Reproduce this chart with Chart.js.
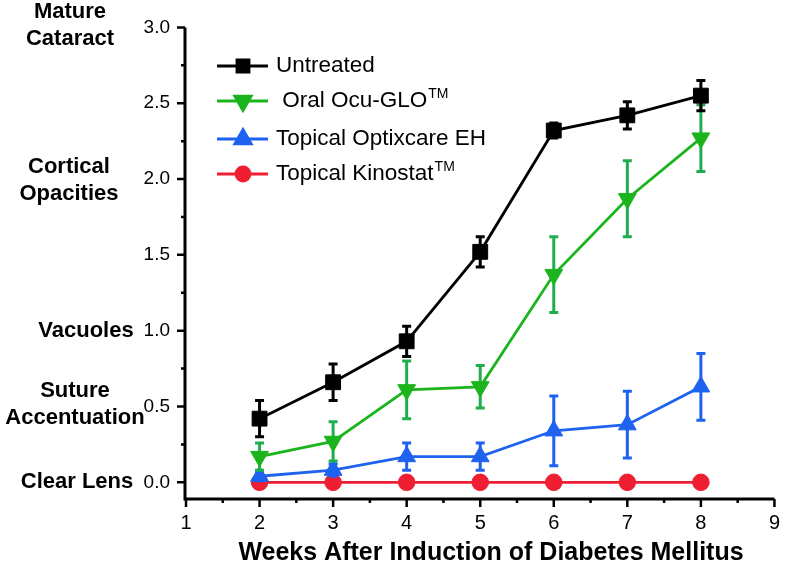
<!DOCTYPE html>
<html>
<head>
<meta charset="utf-8">
<script src="https://cdn.jsdelivr.net/npm/chart.js@4/dist/chart.umd.min.js"></script>
<style>
  html, body { margin: 0; padding: 0; background: #fff; }
  #wrap { width: 792px; height: 565px; position: relative; }
</style>
</head>
<body>
<div id="wrap"><canvas id="chart" width="792" height="565"></canvas></div>
<script>
// ---- data ----
const weeks        = [2, 3, 4, 5, 6, 7, 8];
const untreated    = [0.42, 0.66, 0.93, 1.52, 2.32, 2.42, 2.55];
const untreatedErr = [0.12, 0.12, 0.10, 0.10, 0.05, 0.09, 0.10];
const ocuGlo       = [0.17, 0.27, 0.61, 0.63, 1.37, 1.87, 2.27];
const ocuGloErr    = [0.09, 0.13, 0.19, 0.14, 0.25, 0.25, 0.22];
const optixcare    = [0.04, 0.08, 0.17, 0.17, 0.34, 0.38, 0.63];
const optixcareErr = [0.03, 0.04, 0.09, 0.09, 0.23, 0.22, 0.22];
const kinostat     = [0, 0, 0, 0, 0, 0, 0];
const kinostatErr  = [0, 0, 0, 0, 0, 0, 0];

const xTicks = [1, 2, 3, 4, 5, 6, 7, 8, 9];
const yTicks = [0, 0.5, 1, 1.5, 2, 2.5, 3];
const stageLabels = [['Mature', 'Cataract'], ['Cortical', 'Opacities'], ['Vacuoles'], ['Suture', 'Accentuation'], ['Clear Lens']];
const stageValues = [3, 2, 1, 0.5, 0];
const legendNames = ['Untreated', ' Oral Ocu-GLO', 'Topical Optixcare EH', 'Topical Kinostat'];
const legendSup   = ['', 'TM', '', 'TM'];
const xTitle = 'Weeks After Induction of Diabetes Mellitus';

const FONT = '"Liberation Sans", Arial, sans-serif';
const BLACK = '#000000', GREEN = '#1cb41c', BLUE = '#1e62f0', RED = '#f01e32';

const pts = arr => weeks.map((w, i) => ({ x: w, y: arr[i] }));

const series = [
  { data: untreated, err: untreatedErr, color: BLACK, errColor: BLACK,     style: 'rect',     rot: 0,   r: 10.5, lr: 8.5 },
  { data: ocuGlo,    err: ocuGloErr,    color: GREEN, errColor: '#1fae4e', style: 'triangle', rot: 180, r: 10.3, lr: 9.5 },
  { data: optixcare, err: optixcareErr, color: BLUE,  errColor: BLUE,      style: 'triangle', rot: 0,   r: 10.3, lr: 9.5 },
  { data: kinostat,  err: kinostatErr,  color: RED,   errColor: RED,       style: 'circle',   rot: 0,   r: 8.3,  lr: 7 },
];

// error bars under each dataset's markers
const errorBars = {
  id: 'errorBars',
  beforeDatasetDraw(chart, args) {
    const s = series[args.index];
    const { ctx, scales: { x, y } } = chart;
    ctx.save();
    ctx.strokeStyle = s.errColor;
    ctx.lineWidth = 3;
    weeks.forEach((w, i) => {
      if (!s.err[i]) return;
      const px = x.getPixelForValue(w);
      const top = y.getPixelForValue(s.data[i] + s.err[i]);
      const bot = y.getPixelForValue(s.data[i] - s.err[i]);
      ctx.beginPath();
      ctx.moveTo(px, top); ctx.lineTo(px, bot);
      ctx.moveTo(px - 4.5, top); ctx.lineTo(px + 4.5, top);
      ctx.moveTo(px - 4.5, bot); ctx.lineTo(px + 4.5, bot);
      ctx.stroke();
    });
    ctx.restore();
  }
};

// axes lines, major/minor ticks, stage labels, legend, x title
const decor = {
  id: 'decor',
  afterDraw(chart) {
    const { ctx, chartArea: a, scales: { x, y } } = chart;
    ctx.save();
    ctx.strokeStyle = '#000';
    ctx.lineWidth = 3;
    ctx.beginPath();
    ctx.moveTo(a.left - 1, y.getPixelForValue(3));
    ctx.lineTo(a.left - 1, a.bottom);
    ctx.lineTo(a.right, a.bottom);
    ctx.stroke();

    ctx.lineWidth = 2.5;
    ctx.beginPath();
    for (let v = 0; v <= 3.001; v += 0.25) {
      const py = y.getPixelForValue(v);
      const major = Math.abs(v * 2 - Math.round(v * 2)) < 1e-6;
      ctx.moveTo(a.left - 1, py); ctx.lineTo(a.left - 1 - (major ? 8 : 4), py);
    }
    for (let v = 1; v <= 9.001; v += 0.5) {
      const px = x.getPixelForValue(v);
      const major = Math.abs(v - Math.round(v)) < 1e-6;
      ctx.moveTo(px, a.bottom); ctx.lineTo(px, a.bottom + (major ? 8 : 4));
    }
    ctx.stroke();

    // stage labels on the left
    const cx = [70, 69, 86, 75, 77];
    const dy = [-2, 1, 0, -2, 0];
    ctx.fillStyle = '#000';
    ctx.font = 'bold 22px ' + FONT;
    ctx.textAlign = 'center';
    ctx.textBaseline = 'middle';
    stageLabels.forEach((lines, i) => {
      const mid = y.getPixelForValue(stageValues[i]) + dy[i];
      const lh = 27;
      lines.forEach((t, j) => {
        ctx.fillText(t, cx[i], mid + (j - (lines.length - 1) / 2) * lh);
      });
    });

    // x axis title
    ctx.font = 'bold 25px ' + FONT;
    ctx.fillText(xTitle, 491, 553);

    // legend
    const rows = [66, 101, 139, 174];
    ctx.textAlign = 'left';
    series.forEach((s, i) => {
      const ry = rows[i];
      ctx.strokeStyle = s.color;
      ctx.lineWidth = 2.8;
      ctx.beginPath(); ctx.moveTo(217, ry); ctx.lineTo(268, ry); ctx.stroke();
      ctx.fillStyle = s.color;
      Chart.helpers.drawPoint(ctx, { pointStyle: s.style, rotation: s.rot, radius: s.lr, borderWidth: 1 }, 243, ry);
      ctx.fillStyle = '#000';
      ctx.font = '22.5px ' + FONT;
      ctx.textBaseline = 'middle';
      ctx.fillText(legendNames[i], 276, ry);
      if (legendSup[i]) {
        const w = ctx.measureText(legendNames[i]).width;
        ctx.font = '14px ' + FONT;
        ctx.fillText(legendSup[i], 276 + w + 1, ry - 7);
      }
    });
    ctx.restore();
  }
};

new Chart(document.getElementById('chart'), {
  type: 'line',
  data: {
    datasets: series.map((s, i) => ({
      label: legendNames[i],
      data: pts(s.data),
      borderColor: s.color,
      backgroundColor: s.color,
      borderWidth: 2.8,
      pointStyle: s.style,
      rotation: s.rot,
      pointRadius: s.r,
      pointHoverRadius: s.r,
      pointBackgroundColor: s.color,
      pointBorderColor: s.color,
      pointBorderWidth: 1,
      tension: 0,
      fill: false,
      clip: false
    }))
  },
  options: {
    responsive: false,
    animation: false,
    layout: { padding: { left: 0, right: 7, top: 25, bottom: 0 } },
    plugins: { legend: { display: false }, tooltip: { enabled: false } },
    scales: {
      x: {
        type: 'linear', min: 1, max: 9,
        grid: { display: false, drawTicks: false },
        border: { display: false },
        afterBuildTicks: s => { s.ticks = xTicks.map(v => ({ value: v })); },
        afterFit: s => { s.height = 66; },
        ticks: { color: '#000', font: { size: 20, family: FONT }, padding: 12, maxRotation: 0 }
      },
      y: {
        type: 'linear', min: -0.11, max: 3,
        grid: { display: false, drawTicks: false },
        border: { display: false },
        afterBuildTicks: s => { s.ticks = yTicks.map(v => ({ value: v })); },
        afterFit: s => { s.width = 186; },
        ticks: { color: '#000', font: { size: 19, family: FONT }, padding: 16, callback: v => v.toFixed(1) }
      }
    }
  },
  plugins: [errorBars, decor]
});
</script>
</body>
</html>
